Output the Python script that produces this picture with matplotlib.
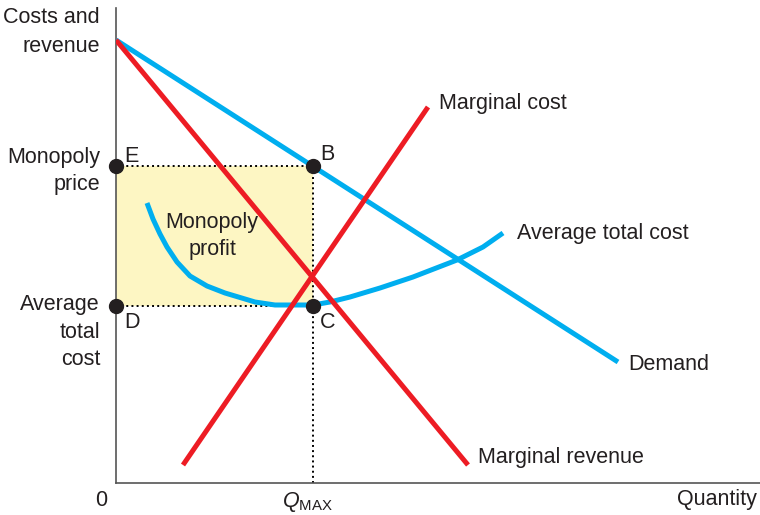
import matplotlib.pyplot as plt

plt.rcParams['font.family'] = ['Liberation Sans', 'DejaVu Sans']
plt.rcParams['mathtext.fontset'] = 'custom'
plt.rcParams['mathtext.rm'] = 'Liberation Sans'
plt.rcParams['mathtext.it'] = 'Liberation Sans:italic'

# chart values (x = quantity, y = costs and revenue)
demand_x = [0, 502]
demand_y = [443, 121]
mr_x = [0, 352]
mr_y = [443, 18]
mc_x = [67, 312]
mc_y = [18, 376]
atc_x = [31, 37, 44, 51, 61, 74, 91, 109, 119, 139, 159, 179, 197, 214, 234, 264, 297, 341, 367, 387]
atc_y = [280, 264, 249, 236, 221, 207, 197, 190, 187, 181, 178, 178, 178, 181, 186, 195, 206, 223, 236, 250]

q_max = 197
monopoly_price = 317
avg_total_cost = 177

blue = '#00aeef'
red = '#ed1c24'
txt = '#231f20'

fig = plt.figure(figsize=(7.6, 5.15), dpi=100)
ax = fig.add_axes([116 / 760, 32 / 515, 644 / 760, 475 / 515])
ax.set_xlim(0, 644)
ax.set_ylim(0, 475)
ax.set_xticks([])
ax.set_yticks([])
for s in ['top', 'right']:
    ax.spines[s].set_visible(False)
for s in ['left', 'bottom']:
    ax.spines[s].set_color('#555555')
    ax.spines[s].set_linewidth(1.2)

# monopoly profit box
ax.fill_between([0, q_max], avg_total_cost, monopoly_price, color='#fdf6c3', lw=0, zorder=1)
ax.plot([0, q_max], [monopoly_price, monopoly_price], color='black', ls=':', lw=1.4, zorder=2)
ax.plot([0, q_max], [avg_total_cost, avg_total_cost], color='black', ls=':', lw=1.4, zorder=2)
ax.plot([q_max, q_max], [0, monopoly_price], color='black', ls=':', lw=1.4, zorder=2)

# curves
ax.plot(atc_x, atc_y, color=blue, lw=3.6, solid_capstyle='butt', solid_joinstyle='round', zorder=3)
ax.plot(demand_x, demand_y, color=blue, lw=3.6, solid_capstyle='butt', zorder=3)
ax.plot(mc_x, mc_y, color=red, lw=3.6, solid_capstyle='butt', zorder=4)
ax.plot(mr_x, mr_y, color=red, lw=3.6, solid_capstyle='butt', zorder=4)

# points E, B, D, C
ax.plot([0, q_max, 0, q_max], [monopoly_price, monopoly_price, avg_total_cost, avg_total_cost],
        'o', color='#231f20', ms=10, clip_on=False, zorder=6)

fs = 15.5
ax.text(8, 326, 'E', fontsize=fs, color=txt, va='center', ha='left')
ax.text(204, 328, 'B', fontsize=fs, color=txt, va='center', ha='left')
ax.text(8, 161, 'D', fontsize=fs, color=txt, va='center', ha='left')
ax.text(204, 161, 'C', fontsize=fs, color=txt, va='center', ha='left')

ax.text(96, 247, 'Monopoly\nprofit', fontsize=fs, color=txt, va='center', ha='center', linespacing=1.4)

ax.text(323, 379, 'Marginal cost', fontsize=fs, color=txt, va='center', ha='left')
ax.text(401, 250, 'Average total cost', fontsize=fs, color=txt, va='center', ha='left')
ax.text(512, 119, 'Demand', fontsize=fs, color=txt, va='center', ha='left')
ax.text(362, 26, 'Marginal revenue', fontsize=fs, color=txt, va='center', ha='left')

# axis labels
ax.text(-16, 451, 'Costs and\nrevenue', fontsize=fs, color=txt, va='center', ha='right',
        linespacing=1.45, clip_on=False)
ax.text(-16, 312, 'Monopoly\nprice', fontsize=fs, color=txt, va='center', ha='right',
        linespacing=1.35, clip_on=False)
ax.text(-16, 151, 'Average\ntotal\ncost', fontsize=fs, color=txt, va='center', ha='right',
        linespacing=1.4, clip_on=False)
ax.text(-15, -18, '0', fontsize=fs, color=txt, va='center', ha='center', clip_on=False)
ax.text(q_max - 6, -19, r'$\mathit{Q}_{\mathrm{MAX}}$', fontsize=fs, color=txt, va='center', ha='center',
        clip_on=False)
ax.text(641, -17, 'Quantity', fontsize=fs, color=txt, va='center', ha='right', clip_on=False)

fig.savefig('out.png', dpi=100)
